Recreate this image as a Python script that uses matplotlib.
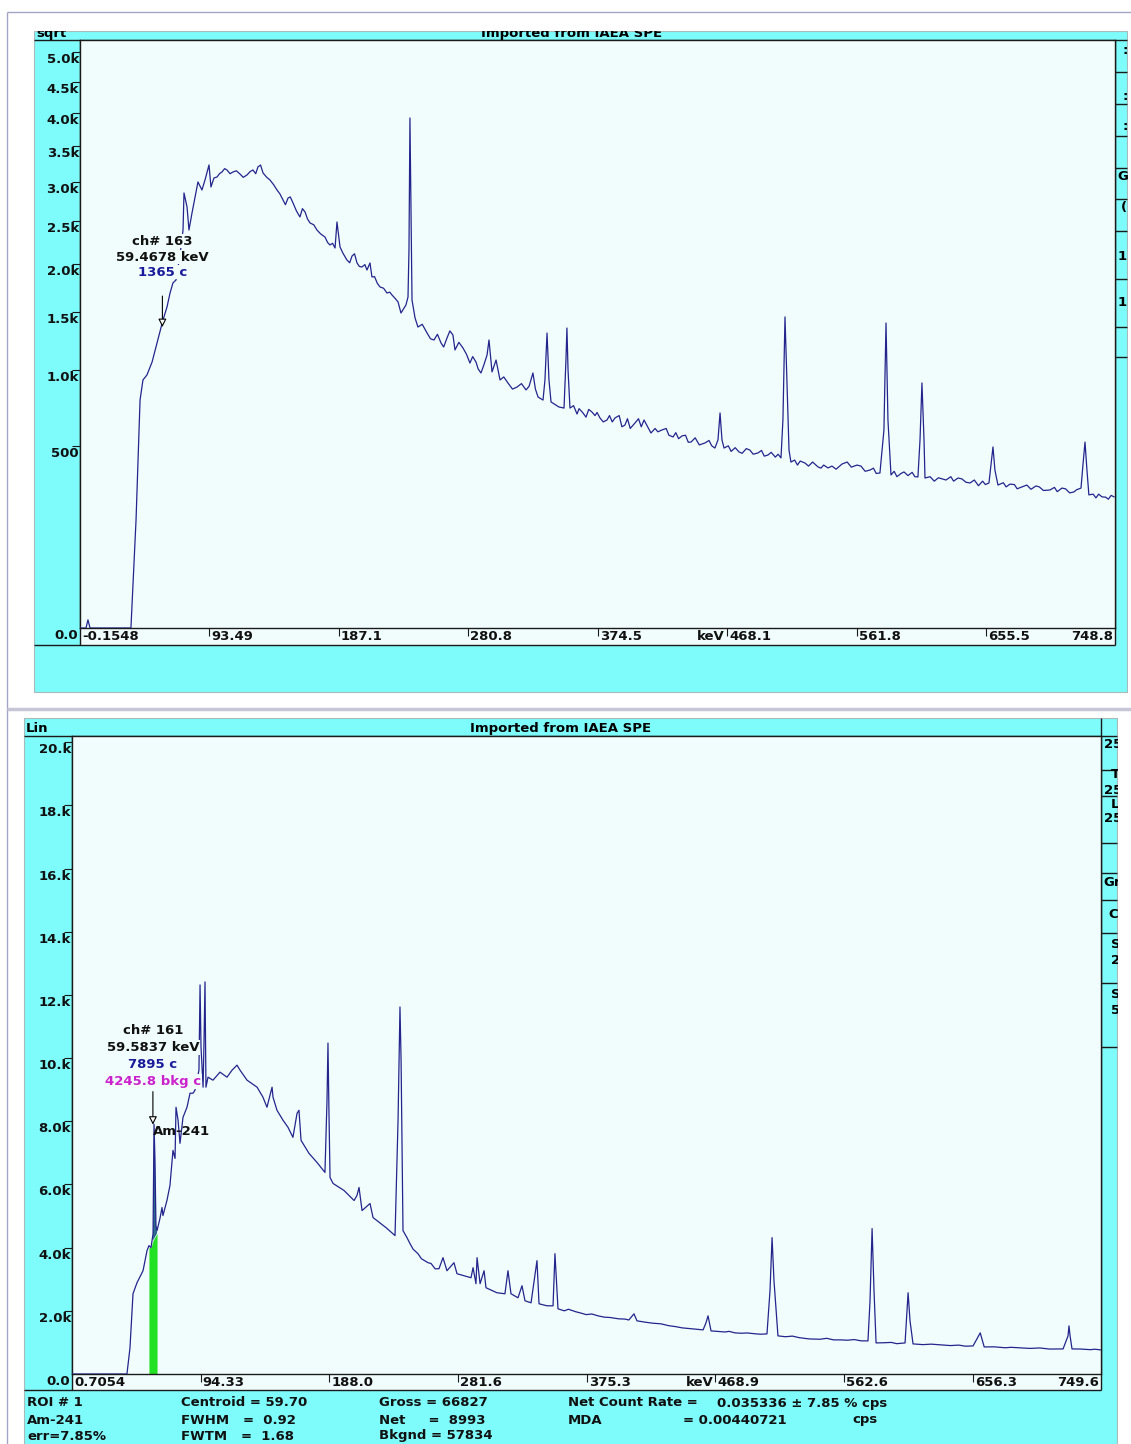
import numpy as np
import matplotlib.pyplot as plt
from matplotlib.patches import Rectangle

# Batch -2 spectrum (sqrt scale), energy in keV and counts
b2_kev = [-0.15, 4.2, 5.6, 7.1, 36.7, 40.4, 43.3, 45.4, 48.3, 52.0,
          55.6, 59.9, 62.8, 65.0, 67.1, 69.3, 72.2, 74.4, 75.1, 77.3,
          78.7, 80.9, 83.1, 85.2, 88.1, 90.3, 93.2, 94.6, 96.8, 99.0,
          102.6, 106.2, 110.6, 115.6, 120.7, 125.0, 128.6, 132.3, 137.3, 142.4,
          146.7, 150.4, 154.0, 159.0, 162.7, 166.3, 171.3, 177.1, 180.7, 184.4,
          185.8, 188.0, 193.0, 196.7, 200.3, 203.9, 207.5, 209.7, 211.1, 217.0,
          222.0, 225.6, 230.0, 232.1, 235.7, 237.2, 237.9, 238.6, 239.4, 240.1,
          242.3, 244.4, 251.0, 256.0, 261.1, 265.4, 269.7, 271.2, 277.0, 282.0,
          286.4, 290.0, 294.4, 295.8, 298.0, 300.9, 303.8, 309.5, 316.1, 322.6,
          327.6, 331.3, 334.9, 336.3, 337.8, 339.2, 340.7, 346.4, 350.1, 351.5,
          352.2, 353.0, 354.4, 363.8, 370.3, 376.1, 381.2, 387.0, 394.2, 401.4,
          408.0, 413.0, 421.0, 429.0, 435.5, 442.0, 452.1, 459.3, 461.5, 463.0,
          464.4, 465.9, 476.7, 484.6, 490.5, 497.7, 507.1, 508.5, 510.0, 511.4,
          512.9, 514.3, 524.5, 533.9, 541.1, 551.2, 562.1, 571.5, 578.7, 581.6,
          583.1, 584.5, 586.7, 596.1, 606.2, 607.7, 609.1, 610.6, 611.3, 626.5,
          635.2, 643.9, 657.6, 659.0, 660.5, 661.9, 664.1, 672.8, 681.5, 691.6,
          701.7, 710.4, 719.1, 724.2, 725.6, 727.1, 728.5, 729.9, 739.4, 748.1]
b2_counts = [0, 0, 1, 0, 0, 176, 783, 927, 965, 1066,
             1224, 1430, 1553, 1691, 1794, 1825, 2097, 2387, 2852, 2671,
             2387, 2596, 2799, 2998, 2891, 3025, 3231, 2931, 3052, 3065,
             3134, 3161, 3134, 3106, 3093, 3161, 3203, 3120, 3025, 2891,
             2761, 2786, 2722, 2546, 2608, 2472, 2387, 2304, 2211, 2176,
             2484, 2188, 2041, 2085, 2008, 1964, 1931, 2008, 1857, 1752,
             1691, 1671, 1602, 1495, 1572, 1651, 2153, 3920, 2509, 1621,
             1448, 1365, 1311, 1250, 1224, 1267, 1294, 1165, 1181, 1058,
             1066, 980, 1123, 1250, 988, 1082, 927, 905, 875, 854,
             980, 804, 783, 927, 1311, 927, 770, 736, 729, 1082,
             1356, 1003, 729, 697, 703, 665, 652, 665, 621, 633,
             652, 573, 591, 550, 556, 521, 516, 488, 533, 697,
             533, 488, 467, 477, 462, 451, 436, 652, 1458, 927,
             477, 415, 410, 391, 386, 405, 400, 376, 362, 591,
             1402, 652, 353, 367, 344, 533, 905, 533, 339, 330,
             339, 317, 317, 400, 494, 376, 308, 312, 300, 304,
             287, 295, 279, 295, 400, 521, 376, 267, 259, 259]

# channel-to-channel scatter of batch -2, read between the points above
b2_fine_kev = [100.8, 104.5, 108.4, 113.0, 118.0, 123.0, 127.0, 130.5, 135.0, 140.0,
               144.5, 148.5, 152.0, 156.5, 160.8, 164.5, 169.0, 174.0, 179.0, 182.6,
               190.0, 195.0, 198.5, 202.0, 206.0, 213.0, 215.0, 219.5, 224.0, 227.7,
               247.5, 253.5, 258.5, 263.0, 267.5, 274.0, 279.5, 284.0, 288.0, 292.0,
               306.5, 312.8, 319.3, 324.8, 329.4,
               357.0, 359.5, 361.0, 366.0, 368.0, 372.5, 374.0, 378.5, 383.0, 385.0,
               390.0, 392.0, 396.0, 398.0, 404.0, 406.0, 410.0, 416.0, 418.0, 424.0,
               426.0, 431.0, 433.0, 438.0, 440.0, 445.0, 448.0, 455.0, 457.0,
               469.0, 471.0, 474.0, 479.0, 482.0, 487.0, 493.0, 495.0, 500.0, 503.0, 505.0,
               517.0, 519.0, 521.0, 527.0, 530.0, 536.0, 538.0, 544.0, 547.0, 555.0,
               558.0, 565.0, 568.0, 574.0, 576.0,
               589.0, 591.0, 594.0, 599.0, 602.0, 604.0,
               615.0, 618.0, 621.0, 630.0, 632.0, 638.0, 641.0, 647.0, 650.0, 653.0, 655.0,
               668.0, 670.0, 676.0, 678.0, 685.0, 688.0, 694.0, 697.0, 705.0, 707.0,
               713.0, 716.0, 721.0,
               733.0, 735.0, 737.0, 742.0, 744.0, 746.0]
b2_fine_counts = [3110, 3180, 3110, 3150, 3060, 3140, 3110, 3230, 3060, 2960,
                  2840, 2700, 2800, 2620, 2650, 2520, 2450, 2340, 2240, 2230,
                  2120, 2010, 2110, 1970, 1990, 1860, 1790, 1740, 1700, 1640,
                  1390, 1260, 1300, 1190, 1330, 1230, 1130, 1110, 1010, 1040,
                  950, 860, 900, 880, 860,
                  745, 690, 725, 670, 720, 680, 700, 640, 680, 640,
                  680, 610, 660, 600, 660, 610, 620, 600, 580, 600,
                  560, 575, 540, 560, 520, 545, 505, 530, 500,
                  500, 470, 490, 460, 485, 455, 475, 445, 465, 440, 455,
                  425, 400, 420, 395, 415, 385, 400, 395, 380, 415,
                  390, 395, 370, 385, 360,
                  370, 345, 360, 350, 365, 345,
                  345, 325, 340, 345, 325, 335, 320, 330, 305, 325, 310,
                  318, 300, 310, 292, 308, 290, 300, 285, 298, 280,
                  292, 275, 288,
                  270, 255, 270, 258, 250, 265]

# Batch -3 spectrum (linear scale)
b3_kev = [0.71, 40.7, 42.9, 45.1, 48.0, 52.4, 55.3, 56.7, 58.2, 59.7,
          60.4, 61.1, 61.8, 62.6, 64.7, 66.2, 66.9, 69.8, 72.0, 74.2,
          75.7, 76.4, 77.9, 79.3, 81.5, 84.4, 86.6, 88.8, 90.2, 91.7,
          93.1, 93.9, 94.6, 96.1, 96.8, 97.5, 98.2, 99.7, 103.3, 108.4,
          113.5, 117.2, 120.8, 123.0, 128.1, 135.4, 139.7, 142.6, 146.3, 147.0,
          149.9, 154.3, 157.9, 161.5, 164.5, 165.9, 167.4, 173.2, 179.0, 184.8,
          186.3, 187.0, 187.7, 188.5, 190.7, 198.7, 206.0, 208.1, 209.6, 211.8,
          217.6, 219.8, 229.2, 235.8, 238.0, 239.4, 240.2, 241.6, 244.5, 246.7,
          252.5, 259.8, 267.8, 270.7, 273.6, 278.7, 280.9, 291.1, 292.6, 294.7,
          295.5, 297.7, 300.6, 302.0, 310.0, 315.8, 318.0, 320.2, 325.3, 328.2,
          330.4, 334.8, 339.1, 340.6, 346.4, 350.8, 352.2, 354.4, 367.5, 383.5,
          398.8, 409.7, 411.9, 429.4, 444.7, 460.0, 462.1, 463.6, 465.1, 465.8,
          483.2, 498.5, 506.5, 508.7, 510.2, 511.6, 514.5, 537.1, 560.4, 580.0,
          581.5, 583.0, 584.4, 585.9, 607.0, 608.4, 609.2, 610.6, 612.8, 634.0,
          656.5, 661.7, 664.6, 691.4, 722.0, 725.6, 726.3, 727.1, 728.5, 749.6]
b3_counts = [0, 0, 826, 2540, 2889, 3270, 3905, 4064, 4001, 4445,
             7906, 6763, 4699, 4540, 4921, 5271, 5017, 5493, 5969, 7080,
             6826, 8446, 8033, 7303, 8128, 8446, 8890, 8890, 8985, 9303,
             9620, 12319, 10351, 9081, 10573, 12414, 9081, 9398, 9303, 9557,
             9398, 9620, 9779, 9620, 9303, 9081, 8763, 8446, 9081, 8763,
             8350, 8033, 7811, 7493, 8255, 8350, 7398, 6985, 6699, 6382,
             8668, 10478, 8350, 6223, 6033, 5810, 5493, 5652, 5906, 5175,
             5398, 4953, 4636, 4382, 8033, 11621, 9938, 4540, 4318, 4128,
             3810, 3524, 3334, 3683, 3270, 3524, 3175, 3048, 3366, 2858,
             3683, 2858, 3270, 2731, 2572, 2540, 3270, 2540, 2413, 2794,
             2318, 2254, 3588, 2223, 2159, 2159, 3810, 2064, 1969, 1842,
             1746, 1905, 1683, 1588, 1461, 1397, 1619, 1842, 1524, 1365,
             1302, 1270, 1270, 2635, 4318, 2953, 1207, 1111, 1080, 1048,
             2318, 4604, 2635, 984, 984, 2000, 2572, 1683, 953, 921,
             889, 1302, 857, 826, 794, 1207, 1524, 1207, 794, 762]

b3_fine_kev = [249, 255, 262, 265,
               359, 362, 371, 375, 379, 388, 392, 403, 406, 418, 423, 435, 440, 450, 455,
               470, 476, 479, 488, 492, 502,
               520, 525, 530, 545, 550, 555, 565, 570, 575,
               592, 597, 601,
               620, 626, 640, 646, 651,
               672, 680, 684, 698, 705, 712,
               735, 742, 745]
b3_fine_counts = [3950, 3650, 3500, 3330,
                  2000, 2050, 1930, 1880, 1900, 1800, 1790, 1740, 1710, 1640, 1610, 1530, 1500, 1440, 1420,
                  1350, 1330, 1350, 1290, 1300, 1260,
                  1180, 1200, 1150, 1100, 1130, 1080, 1070, 1090, 1050,
                  990, 1000, 960,
                  930, 945, 900, 915, 880,
                  860, 830, 845, 810, 825, 790,
                  790, 770, 785]

# axis ranges and tick labels as shown by the software
b2_xlim = (-0.1548, 748.8)
b2_xticks = [93.49, 187.1, 280.8, 374.5, 468.1, 561.8, 655.5]
b2_xlabels = ['93.49', '187.1', '280.8', '374.5', '468.1', '561.8', '655.5']
b2_yticks = [500, 1000, 1500, 2000, 2500, 3000, 3500, 4000, 4500, 5000]
b2_ylabels = ['500', '1.0k', '1.5k', '2.0k', '2.5k', '3.0k', '3.5k', '4.0k', '4.5k', '5.0k']
b2_ymax = 5210

b3_xlim = (0.7054, 749.6)
b3_xticks = [94.33, 188.0, 281.6, 375.3, 468.9, 562.6, 656.3]
b3_xlabels = ['94.33', '188.0', '281.6', '375.3', '468.9', '562.6', '656.3']
b3_yticks = [2000, 4000, 6000, 8000, 10000, 12000, 14000, 16000, 18000, 20000]
b3_ylabels = ['2.0k', '4.0k', '6.0k', '8.0k', '10.k', '12.k', '14.k', '16.k', '18.k', '20.k']
b3_ymax = 20200

# Am-241 region of interest (batch 3)
roi_range = (56.5, 62.7)
roi_bkg = [4000, 4450]

CYAN = '#7efbfb'
PLOT_BG = '#f1fdfd'
LINE = '#24248c'
DARK = '#1a1a1a'
FS = 9.5
plt.rcParams['font.family'] = 'DejaVu Sans'
plt.rcParams['font.weight'] = 'bold'

W, H = 1131, 1444
fig = plt.figure(figsize=(W / 100, H / 100), dpi=100)
fig.patch.set_facecolor('white')


def merged(kev, counts, fine_kev, fine_counts):
    e = np.array(kev + fine_kev, dtype=float)
    c = np.array(counts + fine_counts, dtype=float)
    order = np.argsort(e, kind='stable')
    return e[order], c[order]


def px_axes(x0, y0, x1, y1):
    return fig.add_axes([x0 / W, 1 - y1 / H, (x1 - x0) / W, (y1 - y0) / H])


# background layer in pixel coordinates for the window chrome
bg = px_axes(0, 0, W, H)
bg.set_xlim(0, W)
bg.set_ylim(H, 0)
bg.axis('off')
bg.set_zorder(0)


def rect(x0, y0, x1, y1, fc, ec='none', lw=0, z=1):
    bg.add_patch(Rectangle((x0, y0), x1 - x0, y1 - y0, fc=fc, ec=ec, lw=lw, zorder=z))


def hline(y, x0, x1, c=DARK, lw=1.0, z=3):
    bg.plot([x0, x1], [y, y], color=c, lw=lw, zorder=z, solid_capstyle='butt')


def vline(x, y0, y1, c=DARK, lw=1.0, z=3):
    bg.plot([x, x], [y0, y1], color=c, lw=lw, zorder=z, solid_capstyle='butt')


# page frame
hline(12, 7, W, c='#a4a4c4', lw=1.0, z=6)
vline(7, 12, H, c='#a4a4c4', lw=1.0, z=6)
hline(709, 7, W, c='#c6c6d6', lw=2.5, z=6)

# ---- top window (Batch -2) ----
rect(34, 31, 1127, 692, CYAN, ec='#a9baba', lw=0.8)
rect(80, 628, 1115, 645, PLOT_BG, z=2)
hline(40, 34, 1127)
hline(645, 34, 1115)
vline(80, 40, 645)
vline(1115, 40, 645)
for y in [72, 104, 136, 168, 199, 231, 279, 327, 357]:
    hline(y, 1115, 1127)
for y, s, x in [(50, ':', 1122), (97, ':', 1122), (127, ':', 1122), (177, 'G', 1117),
                (208, '(', 1121), (256, '1', 1118), (303, '1', 1118)]:
    bg.text(x, y, s, fontsize=FS, va='center', ha='left', zorder=4)
bg.text(36, 37.5, 'sqrt', fontsize=FS, va='baseline', zorder=4)
bg.text(572, 37.5, 'Imported from IAEA SPE', fontsize=FS, va='baseline', ha='center', zorder=4)
rect(30, 13, W, 31, 'white', z=5)
rect(1127.5, 31, W, 692, 'white', z=5)

# ---- bottom window (Batch -3) ----
rect(24, 718, 1117, H + 2, CYAN, ec='#a9baba', lw=0.8)
rect(72, 1374, 1101, 1390, PLOT_BG, z=2)
hline(736, 24, 1117)
hline(1390, 24, 1101)
vline(72, 736, 1390)
vline(1101, 718, 1390)
for y in [770, 796, 843, 873, 900, 933, 983, 1047]:
    hline(y, 1101, 1117)
for y, s, x in [(745, '25', 1104), (775, 'T', 1111), (790, '25', 1104), (804, 'L', 1111),
                (818, '25', 1104), (883, 'Gr', 1103), (915, 'C', 1108), (945, 'S', 1111),
                (960, '2', 1111), (995, 'S', 1111), (1010, '5', 1111)]:
    bg.text(x, y, s, fontsize=FS, va='center', ha='left', zorder=4)
bg.text(26, 732, 'Lin', fontsize=FS, va='baseline', zorder=4)
bg.text(561, 732, 'Imported from IAEA SPE', fontsize=FS, va='baseline', ha='center', zorder=4)
rect(1117.5, 718, W, H, 'white', z=5)

# ROI info lines
info = [(27, 1403, 'ROI # 1'), (27, 1420, 'Am-241'), (27, 1436, 'err=7.85%'),
        (181, 1403, 'Centroid = 59.70'), (181, 1420, 'FWHM   =  0.92'), (181, 1436, 'FWTM   =  1.68'),
        (379, 1403, 'Gross = 66827'), (379, 1420, 'Net     =  8993'), (379, 1436, 'Bkgnd = 57834'),
        (568, 1403, 'Net Count Rate ='), (717, 1403, '0.035336 \u00b1 7.85 % cps'),
        (568, 1420, 'MDA'), (683, 1420, '= 0.00440721'), (852, 1420, 'cps')]
for x, y, s in info:
    bg.text(x, y, s, fontsize=FS, va='center', ha='left', zorder=4, color='#111111')

# batch labels
bg.text(918, 97, 'Batch -2', fontfamily='Liberation Serif', fontweight='bold', fontsize=29,
        color='#ee1111', va='baseline', zorder=4)
bg.text(918, 793, 'Batch -3', fontfamily='Liberation Serif', fontweight='bold', fontsize=29,
        color='#ee1111', va='baseline', zorder=4)


def lab(ax, s, xy, coords, off, ha, va='top'):
    ax.annotate(s, xy=xy, xycoords=coords, xytext=off, textcoords='offset pixels',
                ha=ha, va=va, fontsize=FS, annotation_clip=False, color='#111111')


def spectrum_axes(rect_px, kev, counts, xlim, ymax, xticks, xlabels, yticks, ylabels, sqrt_scale):
    ax = px_axes(*rect_px)
    ax.set_zorder(2)
    ax.set_facecolor(PLOT_BG)
    if sqrt_scale:
        ax.set_yscale('function', functions=(lambda v: np.sqrt(np.clip(v, 0, None)), lambda v: np.square(v)))
    ax.plot(kev, counts, color=LINE, lw=0.9, zorder=3)
    ax.set_xlim(*xlim)
    ax.set_ylim(0, ymax)
    for sp in ax.spines.values():
        sp.set_color(DARK)
        sp.set_linewidth(1.0)
    ax.set_xticks(xticks)
    ax.set_yticks(yticks)
    ax.tick_params(direction='out', length=5.5, width=0.8, color=DARK,
                   labelbottom=False, labelleft=False)
    ax.tick_params(axis='y', length=6)
    ax.minorticks_off()
    # x labels sit right of their tick inside the label strip
    lab(ax, '%g' % xlim[0], (xlim[0], 0), ('data', 'axes fraction'), (2, -2), 'left')
    for t, s in zip(xticks, xlabels):
        lab(ax, s, (t, 0), ('data', 'axes fraction'), (2, -2), 'left')
    lab(ax, 'keV', (xticks[4], 0), ('data', 'axes fraction'), (-2, -2), 'right')
    lab(ax, '%g' % xlim[1], (1, 0), 'axes fraction', (-2, -2), 'right')
    # y labels sit under their tick
    lab(ax, '0.0', (0, 0), ('axes fraction', 'data'), (-2, -1), 'right')
    for t, s in zip(yticks, ylabels):
        lab(ax, s, (0, t), ('axes fraction', 'data'), (-1, -1), 'right')
    return ax


def cursor(ax, e, c, arrow_len, lines, colors, offsets):
    ax.annotate('', xy=(e, c), xytext=(0, arrow_len), textcoords='offset pixels',
                arrowprops=dict(arrowstyle='-|>', ec='black', fc='white', lw=0.8,
                                mutation_scale=12, shrinkA=0, shrinkB=0), zorder=5)
    for s, col, dy in zip(lines, colors, offsets):
        ax.annotate(s, xy=(e, c), xytext=(0, dy), textcoords='offset pixels', ha='center',
                    va='center', fontsize=FS, color=col, zorder=6,
                    bbox=dict(fc=PLOT_BG, ec='none', pad=0.6))


e2, c2 = merged(b2_kev, b2_counts, b2_fine_kev, b2_fine_counts)
ax2 = spectrum_axes((80, 40, 1115, 628), e2, c2, b2_xlim, b2_ymax,
                    b2_xticks, b2_xlabels, b2_yticks, b2_ylabels, True)
cursor(ax2, 59.4678, 1365, 31, ['ch# 163', '59.4678 keV', '1365 c'],
       ['#111111', '#111111', '#1a1a9a'], [86, 70, 55])

e3, c3 = merged(b3_kev, b3_counts, b3_fine_kev, b3_fine_counts)
ax3 = spectrum_axes((72, 736, 1101, 1374), e3, c3, b3_xlim, b3_ymax,
                    b3_xticks, b3_xlabels, b3_yticks, b3_ylabels, False)
in_roi = (e3 >= roi_range[0]) & (e3 <= roi_range[1])
roi_e, roi_c = e3[in_roi], c3[in_roi]
bkg = np.interp(roi_e, [roi_e[0], roi_e[-1]], roi_bkg)
ax3.fill_between(roi_e, 0, np.minimum(roi_c, bkg), color='#22e022', lw=0, zorder=2)
ax3.fill_between(roi_e, bkg, roi_c, where=roi_c > bkg, color='#2c6a8c', lw=0, zorder=2)
cursor(ax3, 59.5837, 7895, 33, ['ch# 161', '59.5837 keV', '7895 c', '4245.8 bkg c'],
       ['#111111', '#111111', '#1a1a9a', '#cc22cc'], [94, 77, 60, 43])
ax3.annotate('Am-241', xy=(59.5837, 7895), xytext=(0, -7), textcoords='offset pixels',
             ha='left', va='center', fontsize=FS, color='#111111', zorder=6)

fig.savefig('out.png', dpi=100)
